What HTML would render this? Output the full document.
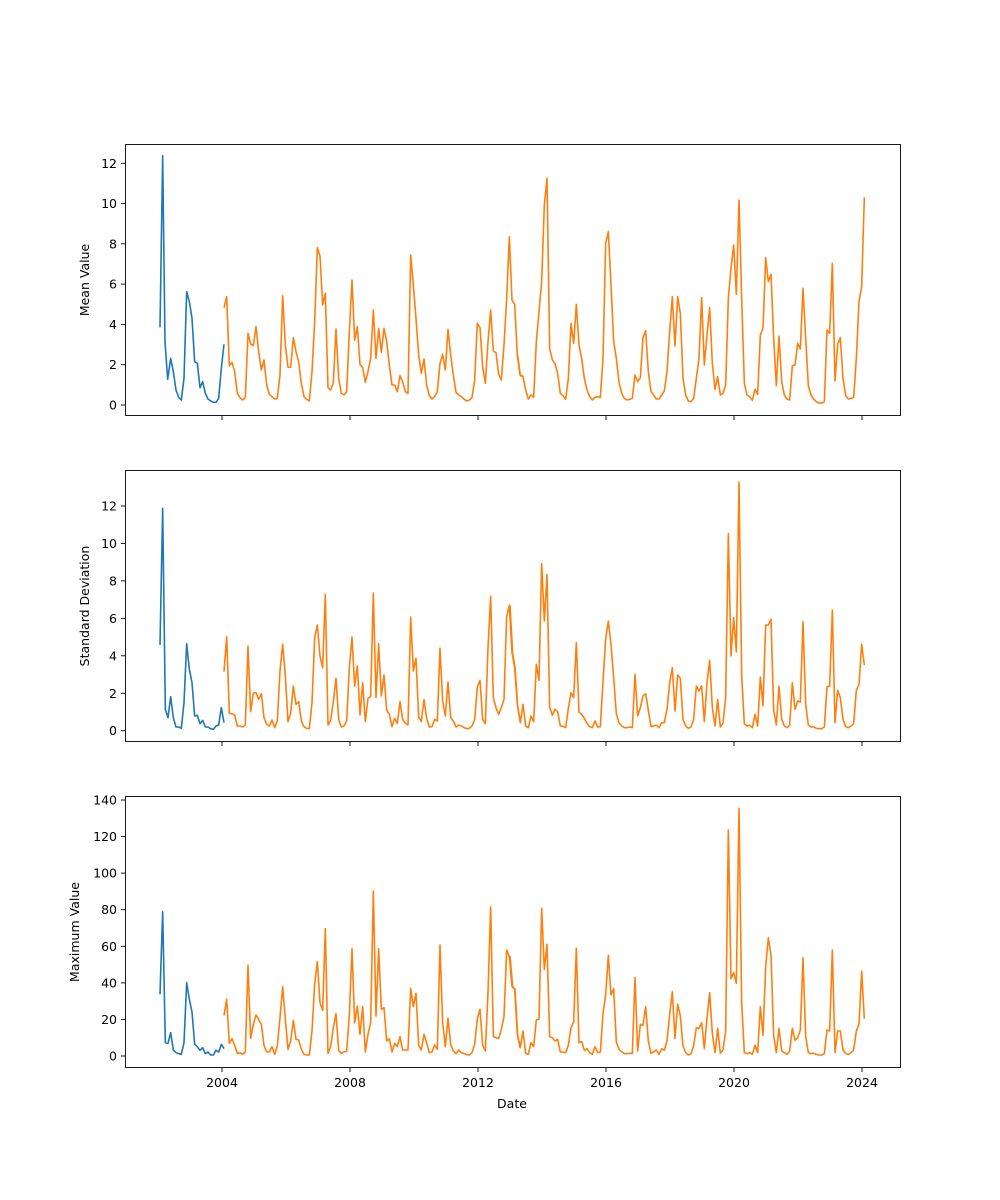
<!DOCTYPE html>
<html><head><meta charset="utf-8"><style>
html,body{margin:0;padding:0;background:#fff;}
svg{display:block;font-family:"DejaVu Sans","Liberation Sans",sans-serif;}
.ax{fill:none;stroke:#000;stroke-width:0.9;}
.tk{stroke:#000;stroke-width:0.9;}
.tl{font-size:12.5px;fill:#000;}
.b{fill:none;stroke:#1f77b4;stroke-width:1.6;vector-effect:non-scaling-stroke;stroke-linejoin:round;}
.o{fill:none;stroke:#ff7f0e;stroke-width:1.6;vector-effect:non-scaling-stroke;stroke-linejoin:round;}
</style></head><body>
<svg width="1000" height="1200" viewBox="0 0 1000 1200" xmlns="http://www.w3.org/2000/svg">
<rect width="1000" height="1200" fill="#fff"/>

<!-- Panel 1 -->
<g transform="translate(150,145) scale(0.3333333)">
<polyline class="b" points="30,547 38,32 45,590 53,703 62,640 70,680 78,735 86,757 94,765 102,700 110,440 118,470 126,520 134,650 142,655 150,728 158,710 166,745 174,762 182,768 190,772 198,772 206,760 214,670 222,598"/>
<polyline class="o" points="222,488 230,455 238,662 246,652 254,680 262,745 270,758 278,765 286,757 294,565 302,597 310,602 318,545 326,620 334,675 342,645 350,720 358,748 366,755 374,762 382,760 390,690 398,452 406,600 414,667 422,667 430,578 438,620 446,650 454,715 462,755 470,763 478,768 486,680 494,530 502,308 510,333 518,480 526,445 534,728 542,735 550,713 558,552 566,700 574,745 582,750 590,740 598,560 606,405 614,585 622,545 630,658 638,668 646,712 654,680 662,640 670,495 678,640 686,550 694,622 702,550 710,590 718,660 726,720 734,720 742,740 750,692 758,710 766,740 774,745 782,330 790,420 798,520 806,630 814,685 822,642 830,720 838,752 846,762 854,755 862,740 870,655 878,628 886,675 894,553 902,630 910,690 918,742 926,750 934,755 942,762 950,768 958,765 966,758 974,705 982,535 990,548 998,665 1006,715 1014,590 1022,495 1030,618 1038,623 1046,688 1054,705 1062,600 1070,460 1078,275 1086,465 1094,478 1102,630 1110,690 1118,692"/>
</g>
<g transform="translate(510,145) scale(0.3333333)">
<polyline class="o" points="23,630 31,692 39,695 47,735 55,762 63,750 71,757 79,590 87,500 95,410 103,180 111,100 119,610 127,645 135,655 143,685 151,745 159,752 167,763 175,700 183,535 191,595 199,478 207,600 215,640 223,700 231,735 239,755 247,765 255,757 263,755 271,757 279,640 287,295 295,260 303,420 311,590 319,640 327,712 335,745 343,760 351,765 359,763 367,760 375,690 383,710 391,698 399,578 407,557 415,680 423,740 431,750 439,762 447,762 455,750 463,738 471,680 479,560 487,455 495,603 503,455 511,505 519,700 527,750 535,768 543,770 551,760 559,700 567,640 575,458 583,660 591,570 599,488 607,655 615,733 623,695 631,750 639,745 647,720 655,460 663,370 671,300 679,448 687,165 695,460 703,715 711,750 719,755 727,766 735,733 743,748 751,570 759,550 767,338 775,410 783,388 791,580 799,722 807,573 815,710 823,750 831,762 839,765 847,662 855,660 863,595 871,612 879,430 887,580 895,722 903,750 911,762 919,770 927,774 935,774 943,770 951,555 959,565 967,355 975,708 983,598 991,578 999,700 1007,752 1015,762 1023,760 1031,757 1039,640 1047,470 1055,425 1063,157"/>
</g>

<!-- Panel 2 -->
<g transform="translate(150,471) scale(0.3333333)">
<polyline class="b" points="30,522 38,112 46,715 54,740 62,677 70,740 78,768 86,768 94,772 102,695 110,518 118,595 126,635 134,735 142,733 150,758 158,748 166,768 174,768 182,773 190,775 198,765 206,762 214,710 222,755"/>
<polyline class="o" points="222,602 230,497 238,727 246,728 254,732 262,765 270,765 278,768 286,762 294,525 302,722 310,666 318,665 326,685 334,668 342,740 350,760 358,765 366,747 374,770 382,750 390,600 398,520 406,615 414,752 422,727 430,645 438,700 446,692 454,750 462,767 470,772 478,773 486,695 494,500 502,462 510,555 518,590 526,370 534,762 542,748 550,692 558,622 566,745 574,768 582,765 590,750 598,590 606,498 614,645 622,585 630,732 638,635 646,752 654,682 662,676 670,366 678,680 686,518 694,675 702,612 710,718 718,730 726,767 734,742 742,757 750,692 758,745 766,757 774,762 782,438 790,600 798,562 806,738 814,752 822,686 830,742 838,768 846,767 854,745 862,750 870,532 878,690 886,735 894,633 902,740 910,750 918,768 926,762 934,765 942,770 950,773 958,772 966,765 974,745 982,648 990,628 998,745 1006,758 1014,530 1022,376 1030,680 1038,710 1046,730 1054,710 1062,685 1070,437 1078,403 1086,545 1094,590 1102,700 1110,750"/>
</g>
<g transform="translate(510,471) scale(0.3333333)">
<polyline class="o" points="0,403 8,548 15,588 23,705 31,755 39,700 47,765 55,770 63,735 71,752 79,580 87,628 95,278 103,450 111,310 119,708 127,733 135,715 143,722 151,765 159,766 167,770 175,712 183,665 191,680 199,515 207,723 215,730 223,742 231,757 239,767 247,770 255,750 263,768 271,767 279,632 287,505 295,450 303,520 311,620 319,728 327,755 335,765 343,770 351,770 359,768 367,770 375,610 383,735 391,710 399,675 407,668 415,718 423,767 431,765 439,763 447,770 455,755 463,755 471,715 479,635 487,590 495,720 503,612 511,622 519,745 527,765 535,772 543,768 551,745 559,645 567,660 575,645 583,752 591,635 599,568 607,710 615,765 623,686 631,768 639,757 647,680 655,188 663,555 671,440 679,543 687,33 695,615 703,758 711,765 719,763 727,770 735,730 743,765 751,618 759,705 767,462 775,462 783,445 791,718 799,762 807,645 815,745 823,765 831,770 839,763 847,635 855,715 863,690 871,693 879,452 887,700 895,762 903,768 911,768 919,772 927,773 935,773 943,768 951,647 959,645 967,417 975,755 983,658 991,680 999,745 1007,767 1015,770 1023,765 1031,758 1039,658 1047,640 1055,520 1063,582"/>
</g>

<!-- Panel 3 -->
<g transform="translate(150,796) scale(0.3333333)">
<polyline class="b" points="30,595 38,347 46,740 54,742 62,710 70,762 78,770 86,773 94,775 102,740 110,560 118,610 126,648 134,745 142,752 150,763 158,755 166,773 174,768 182,777 190,777 198,763 206,768 214,745 222,758"/>
<polyline class="o" points="222,658 230,610 238,742 246,728 254,748 262,773 270,770 278,775 286,768 294,507 302,727 310,685 318,657 326,670 334,685 342,748 350,768 358,768 366,752 374,775 382,750 390,665 398,572 406,670 414,760 422,735 430,673 438,730 446,732 454,760 462,775 470,777 478,777 486,705 494,565 502,497 510,620 518,643 526,398 534,772 542,752 550,695 558,653 566,763 574,772 582,768 590,765 598,655 606,458 614,680 622,630 630,715 638,632 646,768 654,715 662,680 670,285 678,660 686,458 694,640 702,635 710,735 718,728 726,768 734,742 742,752 750,722 758,762 766,762 774,762 782,577 790,632 798,592 806,748 814,762 822,715 830,740 838,770 846,768 854,747 862,760 870,447 878,680 886,752 894,667 902,745 910,765 918,773 926,762 934,770 942,773 950,776 958,777 966,770 974,745 982,668 990,640 998,748 1006,765 1014,590 1022,333 1030,722 1038,725 1046,727 1054,700 1062,662 1070,462 1078,482 1086,572 1094,580 1102,715 1110,755"/>
</g>
<g transform="translate(510,796) scale(0.3333333)">
<polyline class="o" points="0,480 8,572 15,580 23,718 31,755 39,705 47,772 55,775 63,740 71,752 79,672 87,670 95,337 103,520 111,445 119,722 127,725 135,735 143,730 151,768 159,768 167,770 175,748 183,695 191,678 199,457 207,740 215,737 223,763 231,758 239,770 247,775 255,752 263,770 271,768 279,652 287,597 295,478 303,597 311,578 319,738 327,760 335,767 343,773 351,773 359,772 367,772 375,545 383,765 391,685 399,688 407,632 415,735 423,772 431,768 439,762 447,775 455,758 463,763 471,735 479,655 487,587 495,727 503,625 511,660 519,750 527,770 535,777 543,773 551,748 559,695 567,698 575,680 583,758 591,665 599,590 607,712 615,770 623,697 631,772 639,762 647,705 655,102 663,548 671,530 679,562 687,37 695,620 703,770 711,773 719,770 727,775 735,748 743,770 751,632 759,718 767,512 775,425 783,478 791,720 799,770 807,697 815,765 823,770 831,775 839,765 847,697 855,733 863,725 871,702 879,485 887,722 895,770 903,773 911,772 919,775 927,777 935,777 943,773 951,702 959,705 967,462 975,770 983,705 991,705 999,762 1007,772 1015,775 1023,770 1031,762 1039,705 1047,685 1055,525 1063,668"/>
</g>

<!-- Axes frames -->
<rect class="ax" x="125.5" y="144.5" width="775" height="271"/>
<rect class="ax" x="125.5" y="470.5" width="775" height="271"/>
<rect class="ax" x="125.5" y="796.5" width="775" height="271"/>

<!-- Panel 1 y ticks: 0 at 405, 2 units = 40.3 -->
<g class="tl" text-anchor="end">
<line class="tk" x1="121" y1="405" x2="125" y2="405"/><text x="117" y="409.5">0</text>
<line class="tk" x1="121" y1="364.7" x2="125" y2="364.7"/><text x="117" y="369.2">2</text>
<line class="tk" x1="121" y1="324.4" x2="125" y2="324.4"/><text x="117" y="328.9">4</text>
<line class="tk" x1="121" y1="284.1" x2="125" y2="284.1"/><text x="117" y="288.6">6</text>
<line class="tk" x1="121" y1="243.8" x2="125" y2="243.8"/><text x="117" y="248.3">8</text>
<line class="tk" x1="121" y1="203.5" x2="125" y2="203.5"/><text x="117" y="208">10</text>
<line class="tk" x1="121" y1="163.3" x2="125" y2="163.3"/><text x="117" y="167.8">12</text>
</g>
<!-- Panel 2 y ticks: 0 at 730.7, step 37.45 -->
<g class="tl" text-anchor="end">
<line class="tk" x1="121" y1="730.7" x2="125" y2="730.7"/><text x="117" y="735.2">0</text>
<line class="tk" x1="121" y1="693.3" x2="125" y2="693.3"/><text x="117" y="697.8">2</text>
<line class="tk" x1="121" y1="655.8" x2="125" y2="655.8"/><text x="117" y="660.3">4</text>
<line class="tk" x1="121" y1="618.4" x2="125" y2="618.4"/><text x="117" y="622.9">6</text>
<line class="tk" x1="121" y1="580.9" x2="125" y2="580.9"/><text x="117" y="585.4">8</text>
<line class="tk" x1="121" y1="543.5" x2="125" y2="543.5"/><text x="117" y="548">10</text>
<line class="tk" x1="121" y1="506" x2="125" y2="506"/><text x="117" y="510.5">12</text>
</g>
<!-- Panel 3 y ticks: 0 at 1056, step 36.57 -->
<g class="tl" text-anchor="end">
<line class="tk" x1="121" y1="1056" x2="125" y2="1056"/><text x="117" y="1060.5">0</text>
<line class="tk" x1="121" y1="1019.4" x2="125" y2="1019.4"/><text x="117" y="1023.9">20</text>
<line class="tk" x1="121" y1="982.9" x2="125" y2="982.9"/><text x="117" y="987.4">40</text>
<line class="tk" x1="121" y1="946.3" x2="125" y2="946.3"/><text x="117" y="950.8">60</text>
<line class="tk" x1="121" y1="909.7" x2="125" y2="909.7"/><text x="117" y="914.2">80</text>
<line class="tk" x1="121" y1="873.1" x2="125" y2="873.1"/><text x="117" y="877.6">100</text>
<line class="tk" x1="121" y1="836.6" x2="125" y2="836.6"/><text x="117" y="841.1">120</text>
<line class="tk" x1="121" y1="800" x2="125" y2="800"/><text x="117" y="804.5">140</text>
</g>

<!-- X ticks -->
<g>
<line class="tk" x1="222" y1="416" x2="222" y2="420"/><line class="tk" x1="350" y1="416" x2="350" y2="420"/><line class="tk" x1="478" y1="416" x2="478" y2="420"/><line class="tk" x1="606" y1="416" x2="606" y2="420"/><line class="tk" x1="734" y1="416" x2="734" y2="420"/><line class="tk" x1="862" y1="416" x2="862" y2="420"/>
<line class="tk" x1="222" y1="742" x2="222" y2="746"/><line class="tk" x1="350" y1="742" x2="350" y2="746"/><line class="tk" x1="478" y1="742" x2="478" y2="746"/><line class="tk" x1="606" y1="742" x2="606" y2="746"/><line class="tk" x1="734" y1="742" x2="734" y2="746"/><line class="tk" x1="862" y1="742" x2="862" y2="746"/>
<line class="tk" x1="222" y1="1068" x2="222" y2="1072"/><line class="tk" x1="350" y1="1068" x2="350" y2="1072"/><line class="tk" x1="478" y1="1068" x2="478" y2="1072"/><line class="tk" x1="606" y1="1068" x2="606" y2="1072"/><line class="tk" x1="734" y1="1068" x2="734" y2="1072"/><line class="tk" x1="862" y1="1068" x2="862" y2="1072"/>
</g>
<g class="tl" text-anchor="middle">
<text x="222" y="1087">2004</text><text x="350" y="1087">2008</text><text x="478" y="1087">2012</text><text x="606" y="1087">2016</text><text x="734" y="1087">2020</text><text x="862" y="1087">2024</text>
<text x="512" y="1108">Date</text>
<text transform="translate(89,280) rotate(-90)">Mean Value</text>
<text transform="translate(89,606) rotate(-90)">Standard Deviation</text>
<text transform="translate(79,932) rotate(-90)">Maximum Value</text>
</g>
</svg>
</body></html>
